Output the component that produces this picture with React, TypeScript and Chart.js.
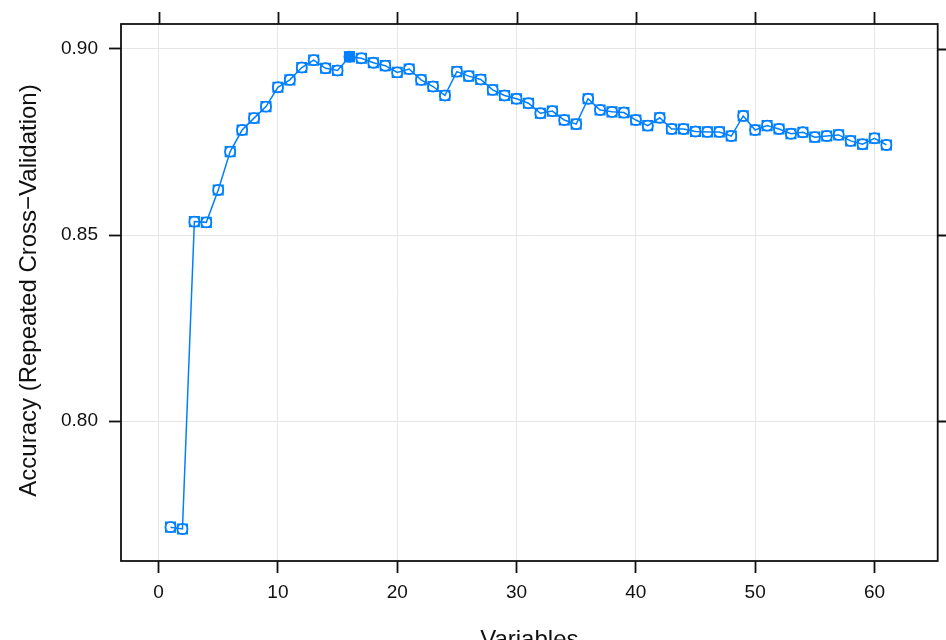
import React, { useEffect, useRef } from "react";
import { Chart, registerables } from "chart.js";

Chart.register(...registerables);

const variables = [
  1, 2, 3, 4, 5, 6, 7, 8, 9, 10,
  11, 12, 13, 14, 15, 16, 17, 18, 19, 20,
  21, 22, 23, 24, 25, 26, 27, 28, 29, 30,
  31, 32, 33, 34, 35, 36, 37, 38, 39, 40,
  41, 42, 43, 44, 45, 46, 47, 48, 49, 50,
  51, 52, 53, 54, 55, 56, 57, 58, 59, 60, 61,
];

const accuracy = [
  0.7715, 0.771, 0.8536, 0.8534, 0.8621, 0.8724, 0.8782, 0.8814, 0.8845, 0.8897,
  0.8917, 0.895, 0.897, 0.8948, 0.8942, 0.8979, 0.8975, 0.8963, 0.8955, 0.8937,
  0.8946, 0.8917, 0.8899, 0.8875, 0.8939, 0.8927, 0.8918, 0.889, 0.8875, 0.8866,
  0.8854, 0.8827, 0.8833, 0.8809, 0.8798, 0.8866, 0.8836, 0.8831, 0.8829, 0.8809,
  0.8794, 0.8815, 0.8785, 0.8785, 0.8778, 0.8777, 0.8777, 0.8766, 0.882, 0.8782,
  0.8794, 0.8785, 0.8772, 0.8776, 0.8763, 0.8766, 0.8769, 0.8753, 0.8744, 0.876, 0.8742,
];

const bestVariables = [16];

const xTickValues = [0, 10, 20, 30, 40, 50, 60];
const yTickValues = [0.8, 0.85, 0.9];

const xTitle = "Variables";
const yTitle = "Accuracy (Repeated Cross\u2212Validation)";

const BLUE = "#0080ff";
const FONT = "'Liberation Sans', Arial, sans-serif";

const framePlugin = {
  id: "latticeFrame",
  afterDraw(chart: any) {
    const { ctx, chartArea } = chart;
    const xs = chart.scales.x;
    const ys = chart.scales.y;
    ctx.save();
    ctx.strokeStyle = "#111";
    ctx.lineWidth = 1.8;
    ctx.strokeRect(chartArea.left, chartArea.top, chartArea.right - chartArea.left, chartArea.bottom - chartArea.top);
    ctx.beginPath();
    xTickValues.forEach((v) => {
      const px = Math.round(xs.getPixelForValue(v)) + 0.5;
      ctx.moveTo(px, chartArea.top);
      ctx.lineTo(px, chartArea.top - 12);
    });
    yTickValues.forEach((v) => {
      const py = Math.round(ys.getPixelForValue(v)) + 0.5;
      ctx.moveTo(chartArea.right, py);
      ctx.lineTo(chartArea.right + 12, py);
    });
    ctx.stroke();
    ctx.fillStyle = "#111";
    ctx.font = `24px ${FONT}`;
    ctx.textAlign = "center";
    ctx.textBaseline = "alphabetic";
    ctx.fillText(xTitle, (chartArea.left + chartArea.right) / 2, 647);
    ctx.translate(36, (chartArea.top + chartArea.bottom) / 2 - 2);
    ctx.rotate(-Math.PI / 2);
    ctx.fillText(yTitle, 0, 0);
    ctx.restore();
  },
};

export default function App() {
  const ref = useRef<HTMLCanvasElement | null>(null);
  useEffect(() => {
    if (!ref.current) return;
    const points = variables.map((v, i) => ({ x: v, y: accuracy[i] }));
    const best = points.filter((p) => bestVariables.includes(p.x));
    const chart = new Chart(ref.current, {
      type: "scatter",
      data: {
        datasets: [
          {
            data: points,
            showLine: true,
            borderColor: BLUE,
            borderWidth: 1.5,
            pointStyle: "circle",
            pointRadius: 5.2,
            pointBorderWidth: 1.5,
            pointBorderColor: BLUE,
            pointBackgroundColor: "rgba(0,0,0,0)",
          },
          {
            data: points,
            showLine: false,
            pointStyle: "rect",
            pointRadius: 6.8,
            pointBorderWidth: 1.5,
            pointBorderColor: BLUE,
            pointBackgroundColor: "rgba(0,0,0,0)",
          },
          {
            data: best,
            showLine: false,
            pointStyle: "rect",
            pointRadius: 7,
            pointBorderWidth: 1,
            pointBorderColor: BLUE,
            pointBackgroundColor: BLUE,
          },
        ],
      },
      options: {
        animation: false,
        responsive: false,
        devicePixelRatio: 1,
        layout: { padding: { top: 24, right: 7, left: 0, bottom: 0 } },
        plugins: { legend: { display: false }, tooltip: { enabled: false } },
        scales: {
          x: {
            type: "linear",
            min: -3.15,
            max: 65.3,
            afterBuildTicks: (s: any) => {
              s.ticks = xTickValues.map((v) => ({ value: v }));
            },
            afterFit: (s: any) => {
              s.height = 79;
            },
            grid: { color: "#e6e6e6", lineWidth: 1, tickColor: "#111", tickLength: 12, tickWidth: 1.8 },
            border: { display: false },
            ticks: {
              color: "#111",
              font: { family: FONT, size: 19 },
              padding: 8,
              maxRotation: 0,
              callback: (v: any) => String(v),
            },
          },
          y: {
            type: "linear",
            min: 0.7624,
            max: 0.9067,
            afterBuildTicks: (s: any) => {
              s.ticks = yTickValues.map((v) => ({ value: v }));
            },
            afterFit: (s: any) => {
              s.width = 121;
            },
            grid: { color: "#e6e6e6", lineWidth: 1, tickColor: "#111", tickLength: 12, tickWidth: 1.8 },
            border: { display: false },
            ticks: {
              color: "#111",
              font: { family: FONT, size: 19 },
              padding: 11,
              callback: (v: any) => Number(v).toFixed(2),
            },
          },
        },
      },
      plugins: [framePlugin],
    });
    return () => chart.destroy();
  }, []);
  return (
    <div style={{ position: "absolute", left: 0, top: 0, width: 946, height: 640, background: "#fff" }}>
      <canvas ref={ref} width={946} height={640} style={{ display: "block" }} />
    </div>
  );
}
